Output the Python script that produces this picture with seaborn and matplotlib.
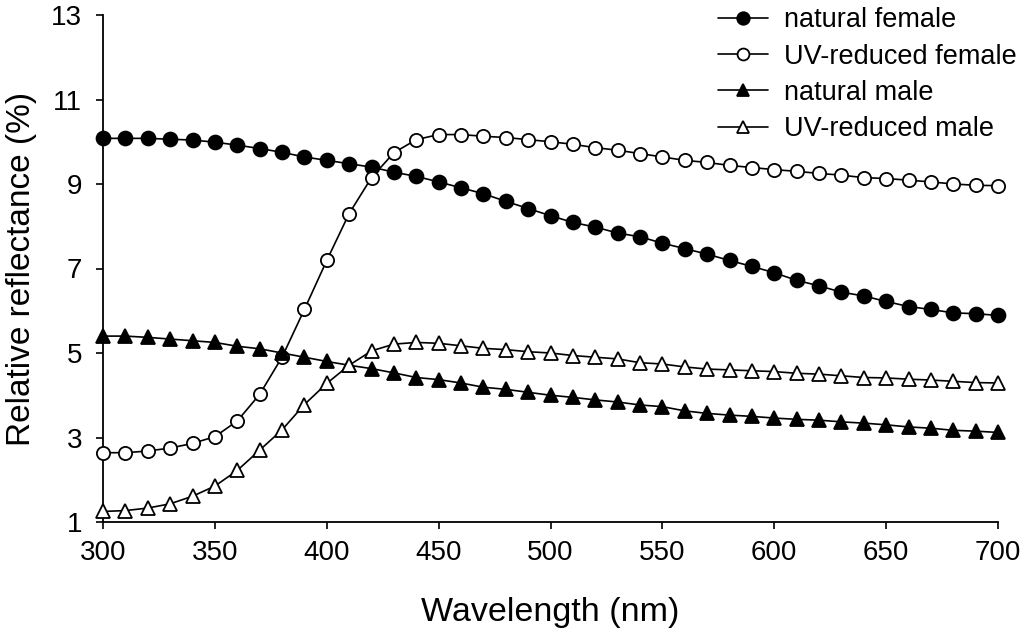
import matplotlib
matplotlib.use("Agg")
import matplotlib.pyplot as plt
import seaborn as sns
import pandas as pd

wavelength = [300, 310, 320, 330, 340, 350, 360, 370, 380, 390,
              400, 410, 420, 430, 440, 450, 460, 470, 480, 490,
              500, 510, 520, 530, 540, 550, 560, 570, 580, 590,
              600, 610, 620, 630, 640, 650, 660, 670, 680, 690, 700]

natural_female = [10.08, 10.08, 10.08, 10.06, 10.04, 9.99, 9.92, 9.84, 9.75, 9.64,
                  9.56, 9.48, 9.40, 9.28, 9.18, 9.05, 8.91, 8.77, 8.59, 8.42,
                  8.25, 8.09, 7.98, 7.84, 7.75, 7.60, 7.47, 7.34, 7.19, 7.05,
                  6.90, 6.72, 6.59, 6.44, 6.35, 6.22, 6.10, 6.03, 5.95, 5.93, 5.89]

uv_female = [2.64, 2.64, 2.68, 2.75, 2.86, 3.02, 3.39, 4.02, 4.90, 6.03,
             7.19, 8.30, 9.15, 9.74, 10.05, 10.17, 10.17, 10.13, 10.10, 10.05,
             10.00, 9.94, 9.86, 9.80, 9.72, 9.64, 9.56, 9.51, 9.44, 9.39,
             9.34, 9.30, 9.25, 9.21, 9.15, 9.13, 9.09, 9.05, 9.00, 8.97, 8.96]

natural_male = [5.40, 5.40, 5.37, 5.33, 5.29, 5.25, 5.16, 5.10, 5.00, 4.90,
                4.80, 4.71, 4.63, 4.53, 4.42, 4.37, 4.29, 4.19, 4.14, 4.07,
                4.00, 3.95, 3.89, 3.84, 3.77, 3.73, 3.63, 3.57, 3.53, 3.50,
                3.46, 3.43, 3.41, 3.37, 3.34, 3.30, 3.25, 3.22, 3.17, 3.15, 3.12]

uv_male = [1.25, 1.27, 1.33, 1.43, 1.61, 1.85, 2.22, 2.70, 3.18, 3.78,
           4.28, 4.71, 5.05, 5.21, 5.25, 5.23, 5.17, 5.11, 5.08, 5.03,
           5.00, 4.94, 4.90, 4.86, 4.77, 4.74, 4.67, 4.62, 4.60, 4.58,
           4.56, 4.52, 4.50, 4.46, 4.42, 4.41, 4.38, 4.36, 4.33, 4.30, 4.29]

series_names = ["natural female", "UV-reduced female", "natural male", "UV-reduced male"]
y_ticks = [1, 3, 5, 7, 9, 11, 13]
x_ticks = [300, 350, 400, 450, 500, 550, 600, 650, 700]

sns.set_theme(style="ticks")
plt.rcParams['font.family'] = ['Liberation Sans', 'DejaVu Sans']

fig = plt.figure(figsize=(10.24, 6.35), dpi=100)
ax = fig.add_axes([103 / 1024, 1 - 522 / 635, (998 - 103) / 1024, (522 - 15) / 635])

styles = [
    dict(marker="o", markerfacecolor="black", markersize=10),
    dict(marker="o", markerfacecolor="white", markersize=9.5),
    dict(marker="^", markerfacecolor="black", markersize=10),
    dict(marker="^", markerfacecolor="white", markersize=10),
]
data = [natural_female, uv_female, natural_male, uv_male]

for name, vals, st in zip(series_names, data, styles):
    df = pd.DataFrame({"Wavelength": wavelength, "Reflectance": vals})
    sns.lineplot(data=df, x="Wavelength", y="Reflectance", ax=ax, color="black",
                 linewidth=1.2, markeredgecolor="black", markeredgewidth=1.3,
                 label=name, clip_on=False, zorder=3, **st)

ax.set_xlim(300, 700)
ax.set_ylim(1, 13)
ax.set_xticks(x_ticks)
ax.set_yticks(y_ticks)
ax.tick_params(axis="both", direction="out", length=5, width=1.2, labelsize=20,
               color="black", labelcolor="black")
ax.tick_params(axis="x", pad=8)
ax.tick_params(axis="y", pad=10)
for s in ["top", "right"]:
    ax.spines[s].set_visible(False)
for s in ["left", "bottom"]:
    ax.spines[s].set_linewidth(1.3)
    ax.spines[s].set_color("black")

ax.set_xlabel("Wavelength (nm)", fontsize=24.5, labelpad=22, color="black")
ax.set_ylabel("Relative reflectance (%)", fontsize=24, labelpad=10, color="black")

leg = ax.legend(loc="upper left", bbox_to_anchor=(714 / 1024, 0.995), bbox_transform=fig.transFigure,
                frameon=False, fontsize=19.5, handlelength=1.85, handletextpad=0.6,
                labelspacing=0.38, borderpad=0.15, borderaxespad=0, markerscale=0.9)
for t in leg.get_texts():
    t.set_color("black")

fig.savefig("out.png", dpi=100, facecolor="white")
